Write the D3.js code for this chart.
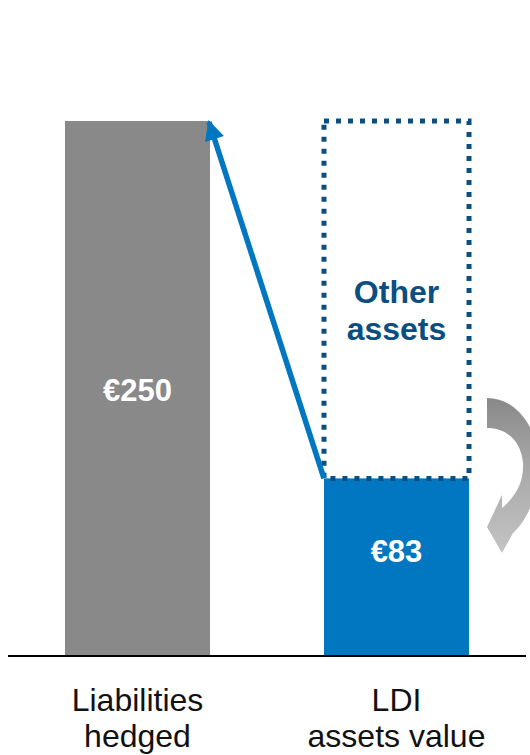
<!DOCTYPE html>
<html><head><meta charset="utf-8">
<script src="https://cdn.jsdelivr.net/npm/d3@7"></script>
<style>body{margin:0;background:#fff}svg{display:block}</style>
</head><body>
<svg id="c" width="530" height="755"></svg>
<script>
const categories = ["Liabilities hedged", "LDI assets value"];
const categoryLines = [["Liabilities", "hedged"], ["LDI", "assets value"]];
const liabilities = [250];
const ldiAssets = [83];
const otherAssets = [167];
const valueLabels = ["€250", "€83"];
const otherLabel = ["Other", "assets"];

const svg = d3.select("#c");
const x = d3.scaleBand().domain(categories).range([8, 526]).paddingInner(0.44).paddingOuter(0.22);
const y = d3.scaleLinear().domain([0, 250]).range([656, 121]);
const font = "Liberation Sans, Arial, sans-serif";

const defs = svg.append("defs");
defs.append("marker").attr("id", "ah").attr("viewBox", "0 0 10 10")
  .attr("refX", 9).attr("refY", 5).attr("markerWidth", 3.8).attr("markerHeight", 3.6)
  .attr("markerUnits", "strokeWidth").attr("orient", "auto")
  .append("path").attr("d", "M0,0 L10,5 L0,10 Z").attr("fill", "#0077c0");
const g = defs.append("linearGradient").attr("id", "cg").attr("x1", 0).attr("y1", 0).attr("x2", 0).attr("y2", 1);
g.append("stop").attr("offset", "0").attr("stop-color", "#898989");
g.append("stop").attr("offset", "0.45").attr("stop-color", "#a8a8a8");
g.append("stop").attr("offset", "1").attr("stop-color", "#c4c4c4");

svg.append("rect").attr("x", x(categories[0])).attr("y", y(liabilities[0]))
  .attr("width", x.bandwidth()).attr("height", y(0) - y(liabilities[0])).attr("fill", "#898989");
svg.append("rect").attr("x", x(categories[1])).attr("y", y(ldiAssets[0]))
  .attr("width", x.bandwidth()).attr("height", y(0) - y(ldiAssets[0])).attr("fill", "#0077c0");
svg.append("rect").attr("x", x(categories[1])).attr("y", y(ldiAssets[0] + otherAssets[0]))
  .attr("width", x.bandwidth()).attr("height", y(ldiAssets[0]) - y(ldiAssets[0] + otherAssets[0]))
  .attr("fill", "none").attr("stroke", "#0a4f80").attr("stroke-width", 5)
  .attr("stroke-dasharray", "5 7");

svg.append("line")
  .attr("x1", x(categories[1])).attr("y1", y(ldiAssets[0]))
  .attr("x2", x(categories[0]) + x.bandwidth() - 1).attr("y2", y(liabilities[0]) + 1)
  .attr("stroke", "#0077c0").attr("stroke-width", 5.5).attr("marker-end", "url(#ah)");

svg.append("line").attr("x1", 8).attr("x2", 526).attr("y1", y(0)).attr("y2", y(0))
  .attr("stroke", "#000").attr("stroke-width", 2);

svg.append("path")
  .attr("d", "M487,398 C512,398 534,420 538,455 C541,490 528,520 513,533 L502,553 L487,527 L502,495 L502,508 C516,496 524,482 523,463 C521,440 506,428 487,428 Z")
  .attr("fill", "url(#cg)");

const xm = d => x(d) + x.bandwidth() / 2;
svg.append("text").attr("x", xm(categories[0])).attr("y", (y(0) + y(liabilities[0])) / 2 + 12)
  .attr("text-anchor", "middle").attr("fill", "#fff").attr("font-family", font)
  .attr("font-weight", "bold").attr("font-size", 31).text(valueLabels[0]);
svg.append("text").attr("x", xm(categories[1])).attr("y", (y(0) + y(ldiAssets[0])) / 2 - 5)
  .attr("text-anchor", "middle").attr("fill", "#fff").attr("font-family", font)
  .attr("font-weight", "bold").attr("font-size", 31).text(valueLabels[1]);

const om = (y(ldiAssets[0]) + y(ldiAssets[0] + otherAssets[0])) / 2;
otherLabel.forEach((t, i) => {
  svg.append("text").attr("x", xm(categories[1])).attr("y", om + 3 + i * 37)
    .attr("text-anchor", "middle").attr("fill", "#0a4f80").attr("font-family", font)
    .attr("font-weight", "bold").attr("font-size", 32).text(t);
});

categories.forEach((c, ci) => {
  categoryLines[ci].forEach((t, i) => {
    svg.append("text").attr("x", xm(c)).attr("y", 711 + i * 36)
      .attr("text-anchor", "middle").attr("fill", "#111").attr("font-family", font)
      .attr("font-size", 32).text(t);
  });
});
</script>
</body></html>
